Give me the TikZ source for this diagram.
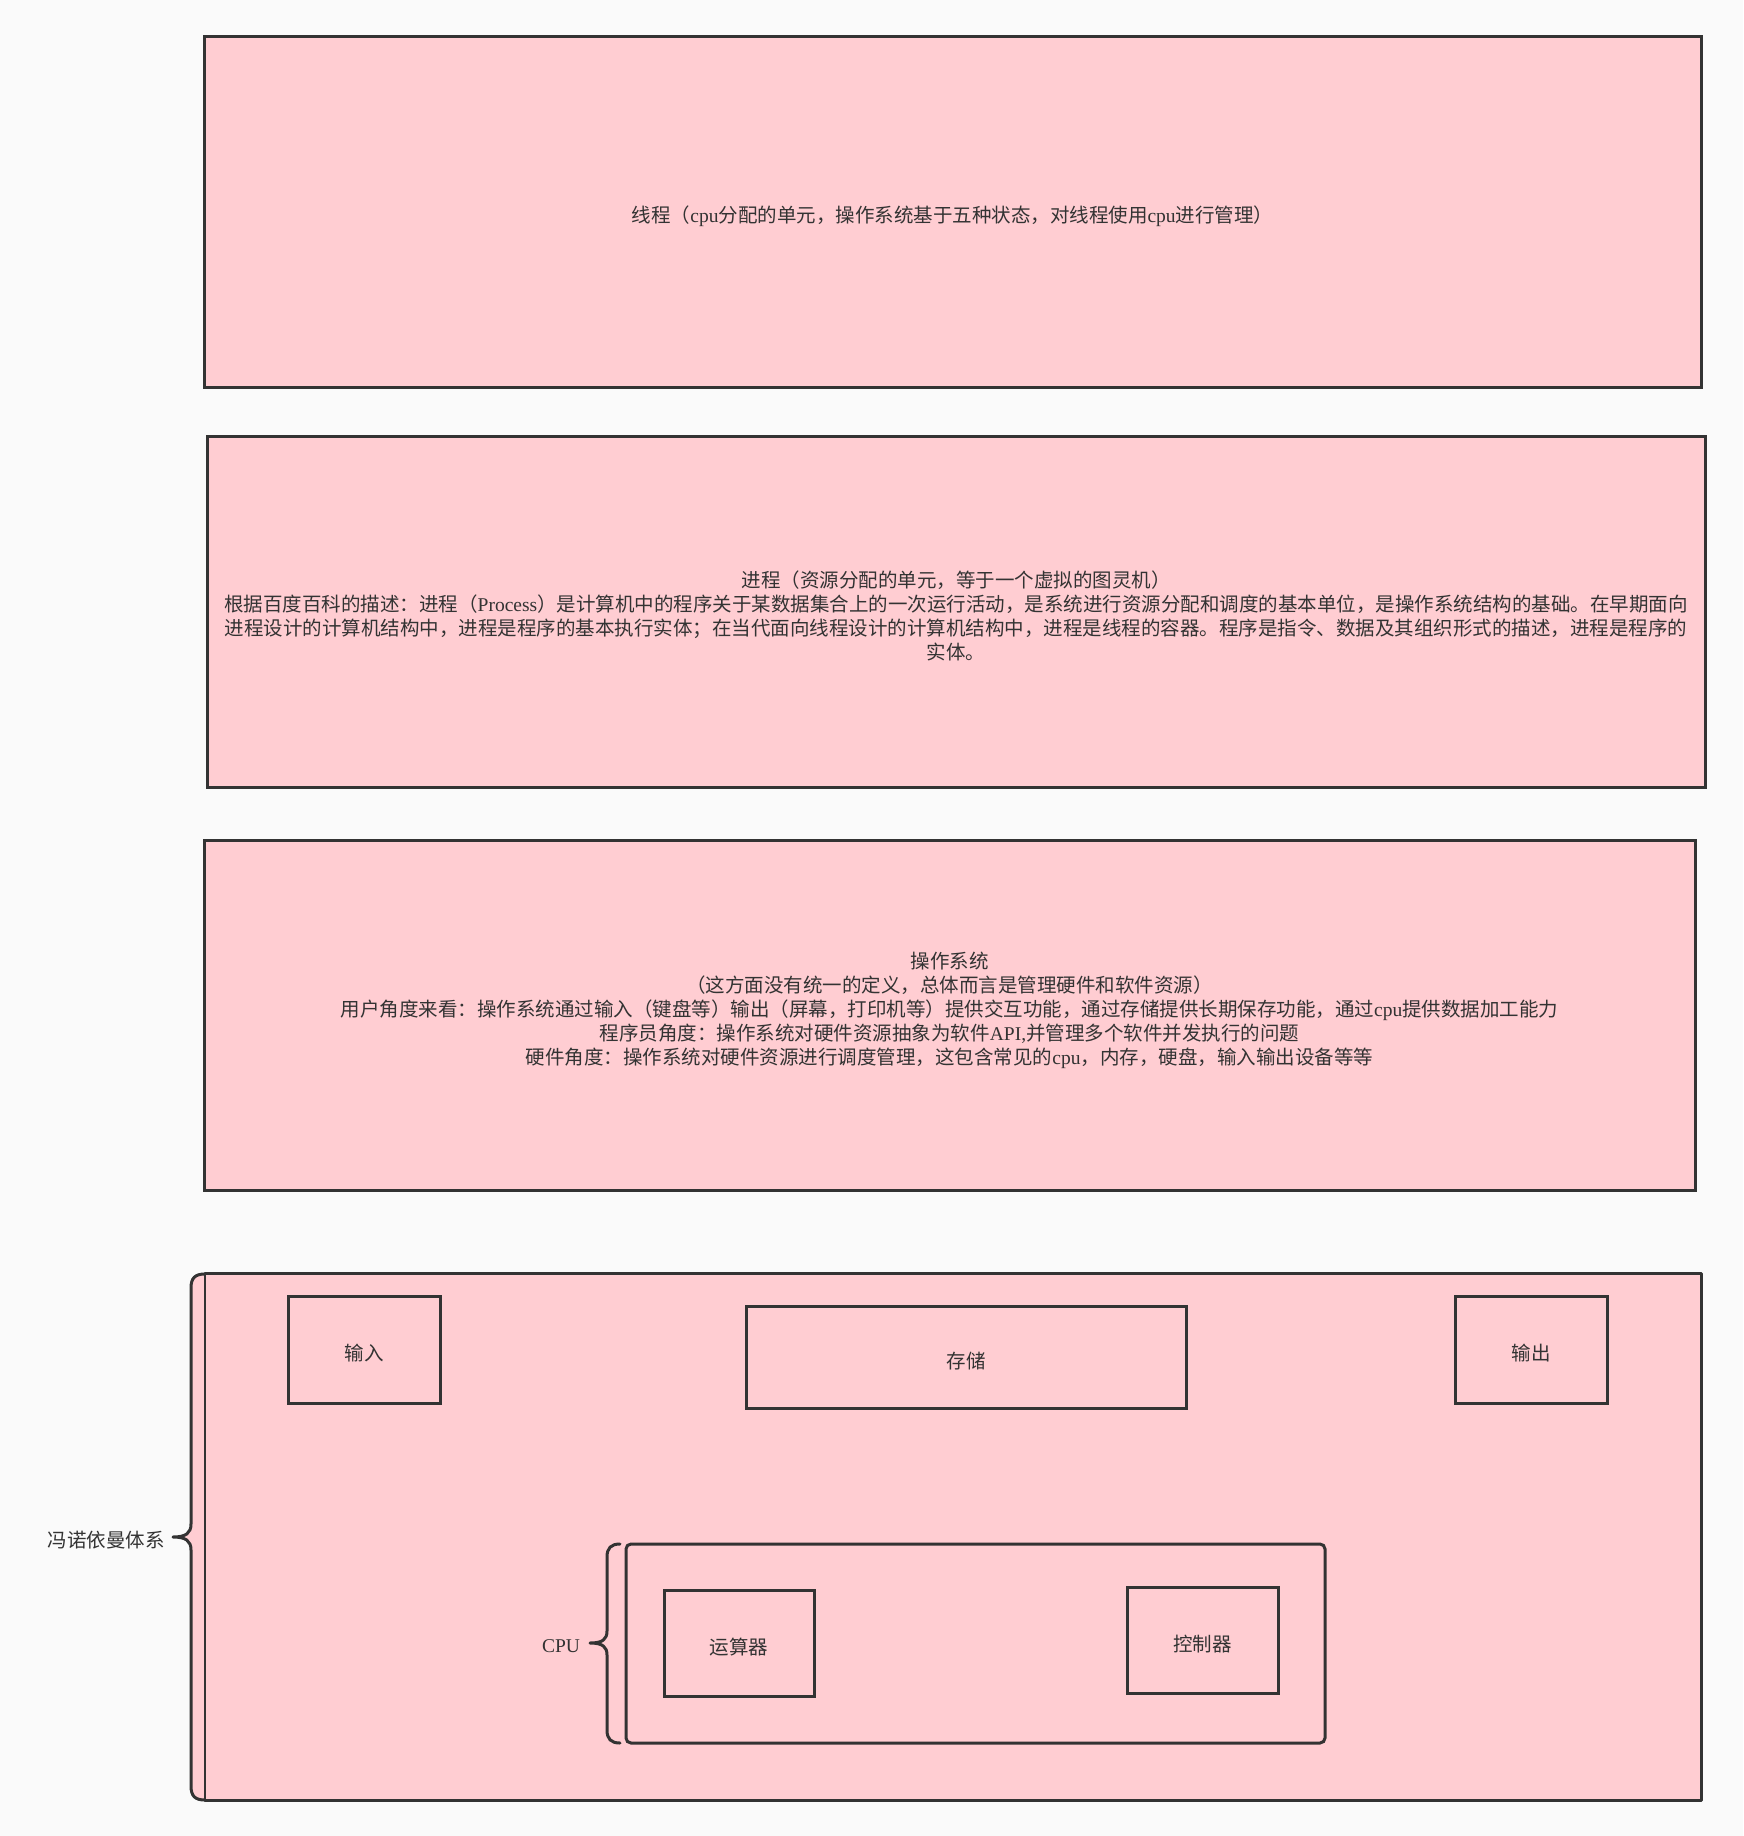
\documentclass[tikz,border=0pt]{standalone}
\usepackage{fontspec}
\setmainfont{Noto Sans CJK SC}
\newfontfamily\latfont{Liberation Serif}
\newcommand\lt[1]{{\latfont #1}}
\newcommand\dfs{\fontsize{19.5}{24}\selectfont}
\definecolor{bgc}{HTML}{FAFAFA}
\definecolor{pinkc}{HTML}{FFCDD2}
\definecolor{strokec}{HTML}{333333}
\definecolor{textc}{HTML}{333333}
\begin{document}
\begin{tikzpicture}[x=1pt,y=-1pt,
  box/.style={draw=strokec, fill=pinkc, line width=3pt, inner sep=0pt},
  fillonly/.style={fill=pinkc, draw=none, inner sep=0pt},
  lbl/.style={font=\dfs, text=textc, inner sep=0pt, align=center},
  edge/.style={draw=strokec, line width=3pt, line join=round, line cap=round}]
\fill[bgc] (0,0) rectangle (1743,1836);
\useasboundingbox (0,0) rectangle (1743,1836);

\node[box, minimum width=1497pt, minimum height=350pt] (thread) at (952.5,212) {};
\node[lbl] (threadtext) at ([yshift=-4.5pt]thread.center)
  {线程（\lt{cpu}分配的单元，操作系统基于五种状态，对线程使用\lt{cpu}进行管理）};

\node[box, minimum width=1498pt, minimum height=351pt] (proc) at (956,611.5) {};
\node[lbl] (proctext) at ([yshift=-4.5pt]proc.center)
  {进程（资源分配的单元，等于一个虚拟的图灵机）\\
   根据百度百科的描述：进程（\lt{Process}）是计算机中的程序关于某数据集合上的一次运行活动，是系统进行资源分配和调度的基本单位，是操作系统结构的基础。在早期面向\\
   进程设计的计算机结构中，进程是程序的基本执行实体；在当代面向线程设计的计算机结构中，进程是线程的容器。程序是指令、数据及其组织形式的描述，进程是程序的\\
   实体。};

\node[box, minimum width=1491pt, minimum height=350pt] (os) at (949.5,1015) {};
\node[lbl] (ostext) at (949.5,1010)
  {操作系统\\
   （这方面没有统一的定义，总体而言是管理硬件和软件资源）\\
   用户角度来看：操作系统通过输入（键盘等）输出（屏幕，打印机等）提供交互功能，通过存储提供长期保存功能，通过\lt{cpu}提供数据加工能力\\
   程序员角度：操作系统对硬件资源抽象为软件\lt{API,}并管理多个软件并发执行的问题\\
   硬件角度：操作系统对硬件资源进行调度管理，这包含常见的\lt{cpu}，内存，硬盘，输入输出设备等等};

% von Neumann container
\node[fillonly, minimum width=1496pt, minimum height=526pt] (vn) at (953,1537) {};
\fill[pinkc] (205,1274) .. controls (195,1274) and (191,1278) .. (191,1288) -- (191,1524)
  .. controls (191,1533) and (186,1537) .. (173,1537)
  .. controls (186,1537) and (191,1541) .. (191,1550) -- (191,1786)
  .. controls (191,1796) and (195,1800) .. (205,1800) -- cycle;
\draw[edge] (vn.north west) -- (vn.north east) -- (vn.south east) -- (vn.south west);
\draw[draw=strokec, line width=1.5pt] (vn.north west) -- (vn.south west);
\draw[edge] (205,1274) .. controls (195,1274) and (191,1278) .. (191,1288) -- (191,1524)
  .. controls (191,1533) and (186,1537) .. (173,1537)
  .. controls (186,1537) and (191,1541) .. (191,1550) -- (191,1786)
  .. controls (191,1796) and (195,1800) .. (205,1800);
\node[lbl] (vnlabel) at (106,1540) {冯诺依曼体系};

\node[box, minimum width=152pt, minimum height=107pt] (input) at (364,1349.5) {};
\node[lbl] (inputtext) at ([yshift=-4pt]input.center) {输入};
\node[box, minimum width=440pt, minimum height=102pt] (store) at (966,1357) {};
\node[lbl] (storetext) at ([yshift=-4pt]store.center) {存储};
\node[box, minimum width=152pt, minimum height=107pt] (output) at (1531,1349.5) {};
\node[lbl] (outputtext) at ([yshift=-4pt]output.center) {输出};

% CPU container
\node[box, rounded corners=5pt, minimum width=699pt, minimum height=199pt] (cpu) at (975.5,1643.5) {};
\draw[edge] (620,1544) .. controls (611,1544) and (607,1548) .. (607,1557) -- (607,1631)
  .. controls (607,1639) and (603,1643) .. (590,1643)
  .. controls (603,1643) and (607,1647) .. (607,1655) -- (607,1730)
  .. controls (607,1739) and (611,1743) .. (620,1743);
\node[lbl] (cpulabel) at (561,1646) {\lt{CPU}};

\node[box, minimum width=150pt, minimum height=106pt] (alu) at (739,1643) {};
\node[lbl] (alutext) at ([yshift=-4pt]alu.center) {运算器};
\node[box, minimum width=151pt, minimum height=106pt] (ctrl) at (1202.5,1640) {};
\node[lbl] (ctrltext) at ([yshift=-4pt]ctrl.center) {控制器};
\end{tikzpicture}
\end{document}
